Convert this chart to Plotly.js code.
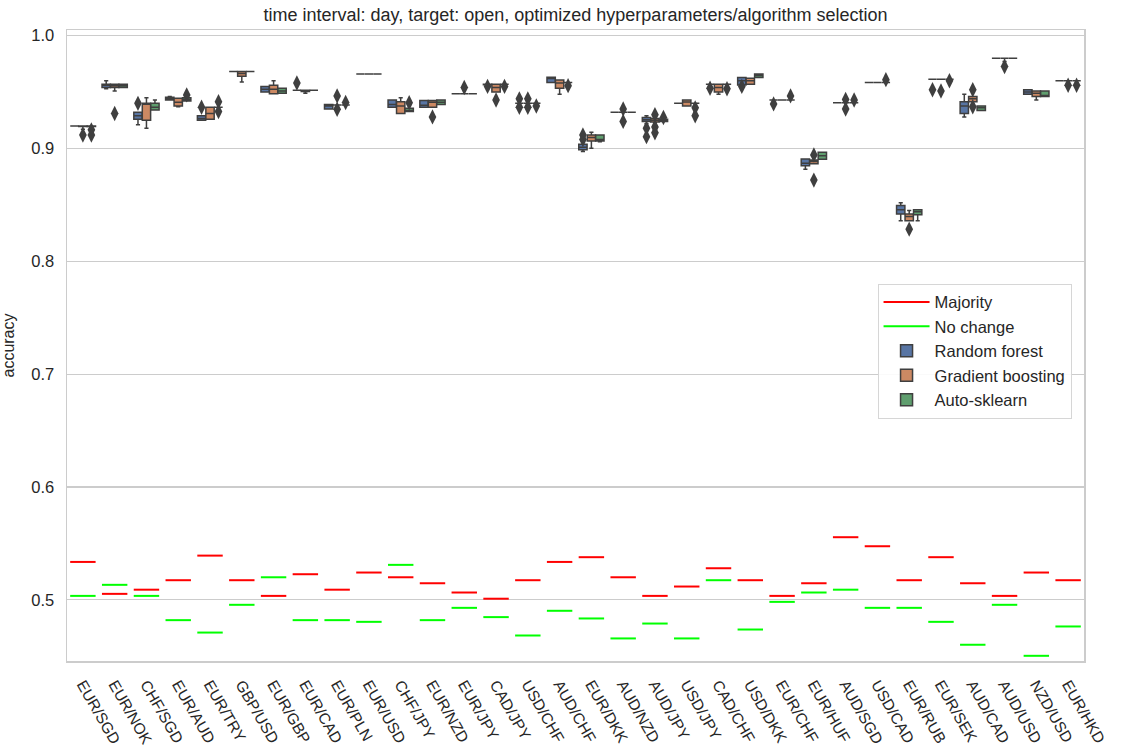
<!DOCTYPE html>
<html>
<head>
<meta charset="utf-8">
<script src="https://cdn.plot.ly/plotly-3.0.1.min.js"></script>
<style>html,body{margin:0;padding:0;background:#fff;}#chart{width:1124px;height:751px;}</style>
</head>
<body>
<div id="chart"></div>
<script>
// ---- data ----
const pairs = ["EUR/SGD","EUR/NOK","CHF/SGD","EUR/AUD","EUR/TRY","GBP/USD","EUR/GBP","EUR/CAD","EUR/PLN","EUR/USD",
  "CHF/JPY","EUR/NZD","EUR/JPY","CAD/JPY","USD/CHF","AUD/CHF","EUR/DKK","AUD/NZD","AUD/JPY","USD/JPY",
  "CAD/CHF","USD/DKK","EUR/CHF","EUR/HUF","AUD/SGD","USD/CAD","EUR/RUB","EUR/SEK","AUD/CAD","AUD/USD","NZD/USD","EUR/HKD"];

const majority = [0.5336,0.5053,0.5090,0.5174,0.5392,0.5174,0.5035,0.5227,0.5090,0.5242,
  0.5200,0.5147,0.5065,0.5010,0.5174,0.5336,0.5378,0.5200,0.5035,0.5118,
  0.5280,0.5174,0.5035,0.5147,0.5555,0.5475,0.5174,0.5378,0.5147,0.5035,0.5242,0.5174];
const noChange = [0.5035,0.5133,0.5035,0.4820,0.4710,0.4956,0.5200,0.4820,0.4820,0.4805,
  0.5310,0.4820,0.4929,0.4847,0.4684,0.4903,0.4835,0.4658,0.4790,0.4658,
  0.5174,0.4737,0.4982,0.5065,0.5090,0.4929,0.4929,0.4805,0.4602,0.4956,0.4504,0.4764];

// Random forest
const rfLo  = [0.9200,0.9530,0.9210,0.9430,0.9250,0.9682,0.9500,0.9515,0.9350,0.9660,0.9366,0.9366,0.9484,0.9565,0.9401,0.9584,0.8973,0.9321,0.9220,0.9400,0.9570,0.9563,0.9430,0.8817,0.9405,0.9584,0.8360,0.9614,0.9280,0.9800,0.9480,0.9600];
const rfQ1  = [0.9200,0.9540,0.9260,0.9430,0.9250,0.9682,0.9500,0.9515,0.9350,0.9660,0.9366,0.9366,0.9484,0.9565,0.9401,0.9584,0.8988,0.9321,0.9240,0.9400,0.9570,0.9563,0.9430,0.8848,0.9405,0.9584,0.8420,0.9614,0.9310,0.9800,0.9480,0.9600];
const rfMed = [0.9200,0.9560,0.9290,0.9440,0.9265,0.9682,0.9525,0.9515,0.9377,0.9660,0.9390,0.9383,0.9484,0.9570,0.9401,0.9620,0.9011,0.9321,0.9255,0.9400,0.9570,0.9600,0.9430,0.8870,0.9405,0.9584,0.8456,0.9614,0.9377,0.9800,0.9500,0.9600];
const rfQ3  = [0.9200,0.9570,0.9320,0.9455,0.9290,0.9682,0.9550,0.9515,0.9390,0.9660,0.9430,0.9425,0.9484,0.9570,0.9401,0.9632,0.9038,0.9321,0.9275,0.9400,0.9570,0.9630,0.9430,0.8906,0.9405,0.9584,0.8494,0.9614,0.9415,0.9800,0.9520,0.9600];
const rfHi  = [0.9200,0.9600,0.9320,0.9460,0.9290,0.9682,0.9550,0.9515,0.9390,0.9660,0.9430,0.9425,0.9484,0.9570,0.9401,0.9632,0.9038,0.9321,0.9290,0.9400,0.9570,0.9630,0.9430,0.8906,0.9405,0.9584,0.8520,0.9614,0.9480,0.9800,0.9520,0.9600];
const rfOut = [[],[],[0.9400],[],[0.9366],[],[],[0.9580],[],[],[],[],[],[0.9550],[0.9440,0.9366],[],[0.9120,0.9080],[],[0.9180,0.9105],[],
  [0.9534],[0.9550],[0.9395],[],[],[],[],[0.9520],[],[],[],[]];

// Gradient boosting
const gbLo  = [0.9170,0.9510,0.9180,0.9370,0.9260,0.9590,0.9485,0.9490,0.9385,0.9660,0.9310,0.9366,0.9484,0.9500,0.9401,0.9480,0.9003,0.9321,0.9230,0.9377,0.9480,0.9570,0.9430,0.8864,0.9405,0.9584,0.8360,0.9614,0.9415,0.9770,0.9430,0.9600];
const gbQ1  = [0.9195,0.9540,0.9250,0.9377,0.9260,0.9640,0.9485,0.9505,0.9385,0.9660,0.9310,0.9366,0.9484,0.9500,0.9401,0.9534,0.9067,0.9321,0.9235,0.9377,0.9500,0.9570,0.9430,0.8864,0.9405,0.9584,0.8360,0.9614,0.9415,0.9800,0.9460,0.9600];
const gbMed = [0.9200,0.9555,0.9400,0.9410,0.9310,0.9665,0.9525,0.9515,0.9385,0.9660,0.9377,0.9410,0.9484,0.9540,0.9401,0.9580,0.9097,0.9321,0.9250,0.9413,0.9540,0.9600,0.9430,0.8884,0.9405,0.9584,0.8397,0.9614,0.9440,0.9800,0.9490,0.9600];
const gbQ3  = [0.9200,0.9570,0.9400,0.9445,0.9366,0.9682,0.9560,0.9515,0.9385,0.9660,0.9415,0.9425,0.9484,0.9570,0.9401,0.9608,0.9120,0.9321,0.9265,0.9430,0.9570,0.9623,0.9430,0.8899,0.9405,0.9584,0.8420,0.9614,0.9460,0.9800,0.9510,0.9600];
const gbHi  = [0.9200,0.9570,0.9450,0.9445,0.9366,0.9682,0.9600,0.9515,0.9385,0.9660,0.9450,0.9425,0.9484,0.9570,0.9401,0.9608,0.9144,0.9321,0.9270,0.9430,0.9570,0.9623,0.9430,0.8899,0.9405,0.9584,0.8450,0.9614,0.9460,0.9800,0.9510,0.9600];
const gbOut = [[0.9120],[0.9310],[],[],[],[],[],[],[0.9466,0.9348],[],[],[0.9280],[0.9540],[0.9430],[0.9440,0.9366],[],[],[0.9350,0.9240],[0.9300,0.9190,0.9140],[],
  [],[],[],[0.8943,0.8720],[0.9435,0.9350],[],[0.8285],[0.9510],[0.9520,0.9370],[0.9726],[],[0.9560]];

// Auto-sklearn
const asLo  = [0.9195,0.9540,0.9340,0.9420,0.9366,0.9682,0.9490,0.9515,0.9385,0.9660,0.9327,0.9390,0.9484,0.9570,0.9401,0.9584,0.9060,0.9321,0.9240,0.9400,0.9570,0.9630,0.9430,0.8905,0.9405,0.9584,0.8360,0.9614,0.9336,0.9800,0.9460,0.9600];
const asQ1  = [0.9195,0.9540,0.9340,0.9420,0.9366,0.9682,0.9490,0.9515,0.9385,0.9660,0.9327,0.9390,0.9484,0.9570,0.9401,0.9584,0.9067,0.9321,0.9240,0.9400,0.9570,0.9630,0.9430,0.8905,0.9405,0.9584,0.8412,0.9614,0.9336,0.9800,0.9460,0.9600];
const asMed = [0.9200,0.9555,0.9366,0.9435,0.9366,0.9682,0.9510,0.9515,0.9385,0.9660,0.9336,0.9410,0.9484,0.9570,0.9401,0.9584,0.9080,0.9321,0.9250,0.9400,0.9570,0.9646,0.9430,0.8935,0.9405,0.9584,0.8440,0.9614,0.9360,0.9800,0.9466,0.9600];
const asQ3  = [0.9200,0.9570,0.9400,0.9450,0.9366,0.9682,0.9534,0.9515,0.9385,0.9660,0.9357,0.9430,0.9484,0.9570,0.9401,0.9584,0.9120,0.9321,0.9260,0.9400,0.9570,0.9660,0.9430,0.8967,0.9405,0.9584,0.8456,0.9614,0.9377,0.9800,0.9510,0.9600];
const asHi  = [0.9200,0.9570,0.9430,0.9450,0.9366,0.9682,0.9534,0.9515,0.9385,0.9660,0.9357,0.9430,0.9484,0.9570,0.9401,0.9584,0.9120,0.9321,0.9260,0.9400,0.9570,0.9660,0.9430,0.8967,0.9405,0.9584,0.8456,0.9614,0.9377,0.9800,0.9510,0.9600];
const asOut = [[0.9165,0.9120],[],[],[0.9475],[0.9415,0.9327],[],[],[],[0.9407],[],[0.9405],[],[],[0.9550],[0.9377],[0.9557],[],[],[0.9274],[0.9360,0.9290],
  [0.9530],[],[0.9466],[],[0.9430],[0.9610],[],[0.9600],[],[],[],[0.9560]];

// ---- styling ----
const FONT = "Liberation Sans, Arial, sans-serif";
const EDGE = "#3f3f3f";
const groups = [
  {name:"Random forest", color:"#5875a4", lo:rfLo, q1:rfQ1, med:rfMed, q3:rfQ3, hi:rfHi, out:rfOut, off:-0.2667},
  {name:"Gradient boosting", color:"#cc8963", lo:gbLo, q1:gbQ1, med:gbMed, q3:gbQ3, hi:gbHi, out:gbOut, off:0},
  {name:"Auto-sklearn", color:"#5f9e6e", lo:asLo, q1:asQ1, med:asMed, q3:asQ3, hi:asHi, out:asOut, off:0.2667}
];

function segments(vals){
  const xs=[], ys=[];
  vals.forEach((v,i)=>{ xs.push(i-0.4,i+0.4,null); ys.push(v,v,null); });
  return {xs, ys};
}
const mj = segments(majority), nc = segments(noChange);

const traces = [
  {type:"scatter", mode:"lines", name:"Majority", x:mj.xs, y:mj.ys, line:{color:"#ff0000", width:2}, hoverinfo:"skip"},
  {type:"scatter", mode:"lines", name:"No change", x:nc.xs, y:nc.ys, line:{color:"#00ff00", width:2}, hoverinfo:"skip"}
];
groups.forEach(g=>{
  traces.push({
    type:"box", name:g.name,
    x: pairs.map((_,i)=>i+g.off),
    q1:g.q1, median:g.med, q3:g.q3, lowerfence:g.lo, upperfence:g.hi,
    width:0.262, whiskerwidth:0.5, boxpoints:false,
    fillcolor:g.color, line:{color:EDGE, width:1.5}, hoverinfo:"skip"
  });
});
groups.forEach(g=>{
  const xs=[], ys=[];
  g.out.forEach((arr,i)=>arr.forEach(v=>{ xs.push(i+g.off); ys.push(v); }));
  traces.push({type:"scatter", mode:"markers", x:xs, y:ys, showlegend:false, hoverinfo:"skip",
    marker:{symbol:"diamond-tall", size:11, color:EDGE, line:{width:0}}});
});

const layout = {
  width:1124, height:751,
  margin:{l:67, r:40, t:30, b:90},
  paper_bgcolor:"#ffffff", plot_bgcolor:"#ffffff",
  font:{family:FONT, size:16, color:"#262626"},
  title:{text:"time interval: day, target: open, optimized hyperparameters/algorithm selection",
    font:{family:FONT, size:18, color:"#262626"}, x:0.5, xref:"paper", xanchor:"center",
    y:14, yref:"container", yanchor:"middle"},
  boxmode:"overlay",
  showlegend:true,
  legend:{x:0.797, y:0.598, xanchor:"left", yanchor:"top", bgcolor:"rgba(255,255,255,0.9)",
    bordercolor:"#d6d6d6", borderwidth:1, font:{family:FONT, size:16.5, color:"#262626"},
    tracegroupgap:0, itemwidth:46},
  xaxis:{range:[-0.5,31.5], tickmode:"array", tickvals:pairs.map((_,i)=>i), ticktext:pairs,
    tickangle:60, showgrid:false, zeroline:false, showline:true, mirror:true, linecolor:"#cccccc", linewidth:1.5,
    ticks:"", ticklabelstandoff:7, tickfont:{family:FONT, size:15.5, color:"#262626"}},
  yaxis:{range:[0.4458,1.005], tickmode:"linear", tick0:0.5, dtick:0.1, tickformat:".1f",
    showgrid:true, gridcolor:"#cccccc", gridwidth:1.3,
    zeroline:false, showline:true, mirror:true, linecolor:"#cccccc", linewidth:1.5, ticks:"", ticklabelstandoff:8,
    title:{text:"accuracy", font:{family:FONT, size:16, color:"#262626"}, standoff:12},
    tickfont:{family:FONT, size:16.5, color:"#262626"}}
};

Plotly.newPlot("chart", traces, layout, {staticPlot:true, displayModeBar:false});
</script>
</body>
</html>
